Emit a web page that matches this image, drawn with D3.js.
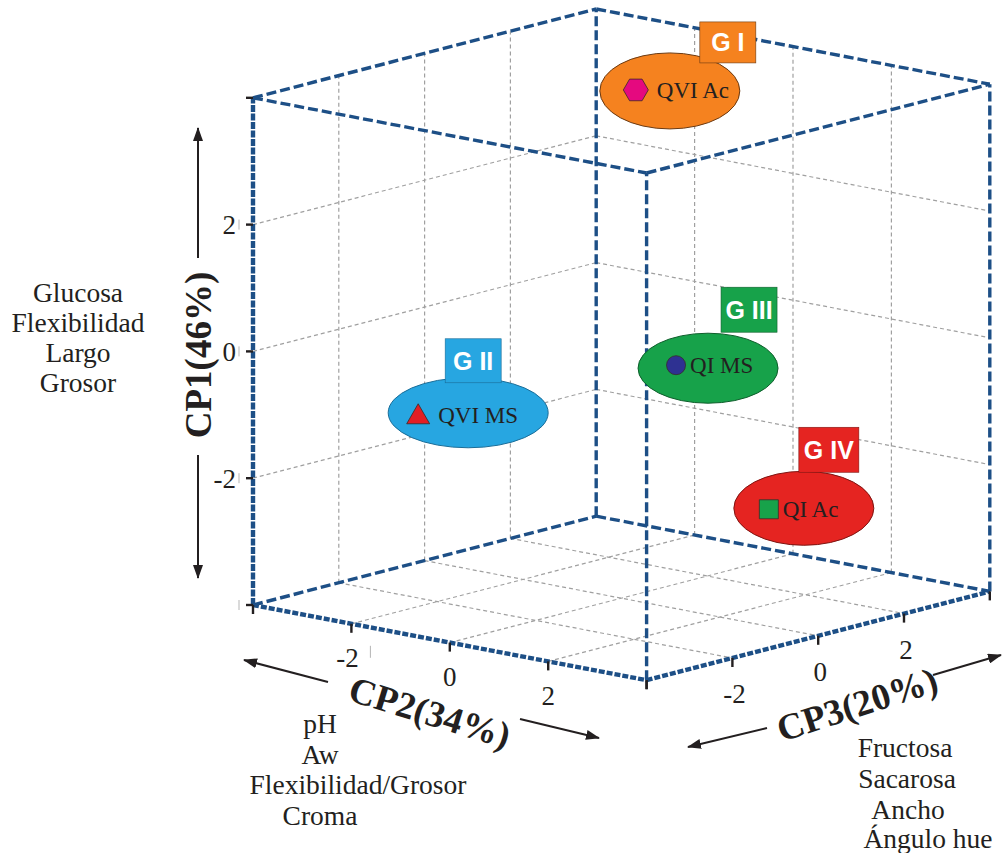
<!DOCTYPE html>
<html>
<head>
<meta charset="utf-8">
<script src="https://cdn.jsdelivr.net/npm/d3@7"></script>
<style>
  body { margin: 0; background: #ffffff; }
  svg { display: block; }
</style>
</head>
<body>
<svg id="chart" width="1002" height="853"></svg>
<script>
// ---- PCA scores (CP1, CP2, CP3) of the four samples ----
const samples = ["QVI Ac", "QVI MS", "QI MS", "QI Ac"];
const groups  = ["G I", "G II", "G III", "G IV"];
const cp1 = [3.26, -1.15, 0.15, -2.85];
const cp2 = [-2.0, -2.5, 2.0, 1.0];
const cp3 = [2.63, -1.87, -1.02, 2.29];

// ---- axes ----
const axisDomain = [-4, 4];
const tickValues = [-2, 0, 2];
const edgeTicks  = [-4, -2, 0, 2, 4];
const axisTitles = ["CP1(46%)", "CP2(34%)", "CP3(20%)"];

// ---- variables loading on each component ----
const cp1Loadings = ["Glucosa", "Flexibilidad", "Largo", "Grosor"];
const cp2Loadings = ["pH", "Aw", "Flexibilidad/Grosor", "Croma"];
const cp3Loadings = ["Fructosa", "Sacarosa", "Ancho", "Ángulo hue"];

// ------------------------------------------------------------------
const svg = d3.select("#chart");
const serif = "'Liberation Serif','Times New Roman',Times,serif";
const sans  = "'Liberation Sans',Arial,Helvetica,sans-serif";
const ink = "#231f20";
const edgeBlue = "#1d4f86";

// oblique projection of the [-4,4]^3 cube onto the page
const cx = 621.4, cy = 344.6;
const sV  = d3.scaleLinear().domain(axisDomain).range([253.6, -253.6]); // CP1 -> vertical
const s2x = d3.scaleLinear().domain(axisDomain).range([-196.8, 196.8]); // CP2 -> x
const s2y = d3.scaleLinear().domain(axisDomain).range([-37.6, 37.6]);   // CP2 -> y
const s3x = d3.scaleLinear().domain(axisDomain).range([-171.6, 171.6]); // CP3 -> x
const s3y = d3.scaleLinear().domain(axisDomain).range([44.4, -44.4]);   // CP3 -> y
function proj(a, b, c) {
  return [cx + s2x(b) + s3x(c), cy + sV(a) + s2y(b) + s3y(c)];
}
const line = d3.line();
const [lo, hi] = axisDomain;

// ---- grid on the three back planes ----
const gridSegs = [];
tickValues.forEach(v => {
  // back-left wall (CP2 = lo)
  gridSegs.push([proj(lo, lo, v), proj(hi, lo, v)]);
  gridSegs.push([proj(v, lo, lo), proj(v, lo, hi)]);
  // back-right wall (CP3 = hi)
  gridSegs.push([proj(lo, v, hi), proj(hi, v, hi)]);
  gridSegs.push([proj(v, lo, hi), proj(v, hi, hi)]);
  // floor (CP1 = lo)
  gridSegs.push([proj(lo, v, lo), proj(lo, v, hi)]);
  gridSegs.push([proj(lo, lo, v), proj(lo, hi, v)]);
});
svg.append("g").selectAll("path").data(gridSegs).join("path")
  .attr("d", d => line(d))
  .attr("fill", "none")
  .attr("stroke", "#a0a0a0")
  .attr("stroke-width", 1.2)
  .attr("stroke-dasharray", "4,3");

// ---- cube edges ----
const boxEdges = [
  // top face
  [proj(hi, lo, lo), proj(hi, lo, hi)],
  [proj(hi, lo, hi), proj(hi, hi, hi)],
  [proj(hi, lo, lo), proj(hi, hi, lo)],
  [proj(hi, hi, lo), proj(hi, hi, hi)],
  // verticals (back, front, right)
  [proj(lo, lo, hi), proj(hi, lo, hi)],
  [proj(lo, hi, lo), proj(hi, hi, lo)],
  [proj(lo, hi, hi), proj(hi, hi, hi)],
  // floor back edges
  [proj(lo, lo, lo), proj(lo, lo, hi)],
  [proj(lo, lo, hi), proj(lo, hi, hi)]
];
svg.append("g").selectAll("path").data(boxEdges).join("path")
  .attr("d", d => line(d))
  .attr("fill", "none")
  .attr("stroke", edgeBlue)
  .attr("stroke-width", 3.4)
  .attr("stroke-dasharray", "10,4");

// axis edges: CP1 (left vertical), CP2 and CP3 (front floor edges)
const axisEdges = [
  [proj(lo, lo, lo), proj(hi, lo, lo)],
  [proj(lo, lo, lo), proj(lo, hi, lo)],
  [proj(lo, hi, lo), proj(lo, hi, hi)]
];
const gAxes = svg.append("g");
gAxes.selectAll("path.base").data(axisEdges).join("path")
  .attr("class", "base")
  .attr("d", d => line(d))
  .attr("fill", "none")
  .attr("stroke", edgeBlue)
  .attr("stroke-width", 4.4)
  .attr("stroke-dasharray", (d, i) => i === 0 ? "7,1.5" : "6,2");

// ---- ticks ----
const gTicks = svg.append("g").attr("stroke", ink).attr("stroke-width", 2.4);
edgeTicks.forEach(v => {
  const p1 = proj(v, lo, lo);
  gTicks.append("line").attr("x1", p1[0] - 7).attr("x2", p1[0]).attr("y1", p1[1]).attr("y2", p1[1]);
  const p2 = proj(lo, v, lo);
  gTicks.append("line").attr("x1", p2[0]).attr("x2", p2[0]).attr("y1", p2[1]).attr("y2", p2[1] + 9);
  const p3 = proj(lo, hi, v);
  gTicks.append("line").attr("x1", p3[0]).attr("x2", p3[0]).attr("y1", p3[1]).attr("y2", p3[1] + 9);
});

// faint minor marks beside the CP1 labels
const gFaint = svg.append("g").attr("stroke", "#b5b5b5").attr("stroke-width", 1);
edgeTicks.slice(0, 4).forEach(v => {
  const p = proj(v, lo, lo);
  gFaint.append("line").attr("x1", p[0] - 14).attr("x2", p[0] - 14).attr("y1", p[1] - 5).attr("y2", p[1] + 5);
});
{
  const p = proj(lo, -2, lo);
  gFaint.append("line").attr("x1", p[0] + 19).attr("x2", p[0] + 19).attr("y1", p[1] + 22).attr("y2", p[1] + 34);
}

// ---- tick labels ----
const gLab = svg.append("g").attr("font-family", serif).attr("font-size", 27).attr("fill", ink);
tickValues.forEach(v => {
  const p1 = proj(v, lo, lo);
  gLab.append("text").attr("x", p1[0] - 17).attr("y", p1[1]).attr("dy", "0.35em")
    .attr("text-anchor", "end").text(v);
  const p2 = proj(lo, v, lo);
  gLab.append("text").attr("x", p2[0] - (v < 0 ? 4 : 0)).attr("y", p2[1] + 34).attr("dy", "0.35em")
    .attr("text-anchor", "middle").text(v);
  const p3 = proj(lo, hi, v);
  gLab.append("text").attr("x", p3[0] + 2).attr("y", p3[1] + 36).attr("dy", "0.35em")
    .attr("text-anchor", "middle").text(v);
});

// ---- arrows ----
const defs = svg.append("defs");
defs.append("marker")
  .attr("id", "head").attr("viewBox", "0 0 14 10")
  .attr("refX", 13).attr("refY", 5)
  .attr("markerWidth", 14).attr("markerHeight", 10)
  .attr("markerUnits", "userSpaceOnUse")
  .attr("orient", "auto")
  .append("path").attr("d", "M0,0 L14,5 L0,10 Z").attr("fill", ink);

const arrows = [
  [[198, 258], [198, 128]],
  [[198, 455], [198, 578]],
  [[328, 682], [244, 660]],
  [[520, 719], [599, 738]],
  [[767, 728], [688, 747]],
  [[933, 675], [1001, 655]]
];
svg.append("g").selectAll("path").data(arrows).join("path")
  .attr("d", d => line(d))
  .attr("stroke", ink).attr("stroke-width", 2)
  .attr("fill", "none")
  .attr("marker-end", "url(#head)");

// ---- axis titles ----
const titleLayout = [
  { x: 198, y: 355, rot: -90 },
  { x: 430, y: 712, rot: 17 },
  { x: 857, y: 704, rot: -18 }
];
svg.append("g").selectAll("text").data(axisTitles).join("text")
  .attr("transform", (d, i) => `translate(${titleLayout[i].x},${titleLayout[i].y}) rotate(${titleLayout[i].rot})`)
  .attr("dy", "0.35em")
  .attr("text-anchor", "middle")
  .attr("font-family", serif)
  .attr("font-weight", "bold")
  .attr("font-size", 37)
  .attr("fill", ink)
  .text(d => d);

// ---- loading lists ----
const loadingBlocks = [
  { items: cp1Loadings, xs: [78, 78, 78, 78], ys: [292, 322, 352, 382] },
  { items: cp2Loadings, xs: [320, 320, 358, 320], ys: [723, 754, 784, 815] },
  { items: cp3Loadings, xs: [905, 907, 908, 928], ys: [747, 778, 809, 838] }
];
const gLoad = svg.append("g").attr("font-family", serif).attr("font-size", 27.5).attr("fill", ink);
loadingBlocks.forEach(b => {
  gLoad.selectAll(null).data(b.items).join("text")
    .attr("x", (d, i) => b.xs[i]).attr("y", (d, i) => b.ys[i])
    .attr("dy", "0.35em").attr("text-anchor", "middle")
    .text(d => d);
});

// ---- sample bubbles ----
const bubbleStyle = [
  { fill: "#f5821f", stroke: "#6b3a12", dx: 34, dy: 1,  rx: 70, ry: 38, bx: 30,  by: -69, bw: 56, bh: 41, tx: 21, marker: "hexagon", mfill: "#e5097f" },
  { fill: "#27a6e1", stroke: "#1a6d98", dx: 50, dy: -2, rx: 80, ry: 35, bx: -23, by: -74, bw: 56, bh: 44, tx: 20, marker: "triangle", mfill: "#e31e24" },
  { fill: "#17a24a", stroke: "#0e5e2b", dx: 32, dy: 3,  rx: 70, ry: 35, bx: 13,  by: -81, bw: 56, bh: 45, tx: 14, marker: "circle", mfill: "#2e3192" },
  { fill: "#e52421", stroke: "#7e1512", dx: 35, dy: -1, rx: 70, ry: 37, bx: -5,  by: -81, bw: 60, bh: 45, tx: 14, marker: "square", mfill: "#17a24a" }
];

function markerPath(type) {
  const p = d3.path();
  if (type === "hexagon") {
    const r = 12.5;
    for (let k = 0; k < 6; k++) {
      const a = Math.PI / 3 * k;
      const x = r * Math.cos(a), y = r * Math.sin(a);
      if (k === 0) p.moveTo(x, y); else p.lineTo(x, y);
    }
    p.closePath();
  } else if (type === "triangle") {
    p.moveTo(0, -11); p.lineTo(11.5, 9); p.lineTo(-11.5, 9); p.closePath();
  } else if (type === "circle") {
    p.arc(0, 0, 9.5, 0, 2 * Math.PI);
  } else {
    p.rect(-9.5, -9.5, 19, 19);
  }
  return p.toString();
}

const gB = svg.append("g");
samples.forEach((name, i) => {
  const st = bubbleStyle[i];
  const [mx, my] = proj(cp1[i], cp2[i], cp3[i]);
  const ex = mx + st.dx, ey = my + st.dy;
  const g = gB.append("g");
  g.append("ellipse")
    .attr("cx", ex).attr("cy", ey).attr("rx", st.rx).attr("ry", st.ry)
    .attr("fill", st.fill).attr("stroke", st.stroke).attr("stroke-width", 1);
  g.append("rect")
    .attr("x", ex + st.bx).attr("y", ey + st.by).attr("width", st.bw).attr("height", st.bh)
    .attr("fill", st.fill).attr("stroke", st.stroke).attr("stroke-width", 0.6);
  g.append("text")
    .attr("x", ex + st.bx + st.bw / 2).attr("y", ey + st.by + st.bh / 2)
    .attr("dy", "0.36em").attr("text-anchor", "middle")
    .attr("font-family", sans).attr("font-weight", "bold").attr("font-size", 25)
    .attr("fill", "#ffffff")
    .text(groups[i]);
  g.append("path")
    .attr("transform", `translate(${mx},${my})`)
    .attr("d", markerPath(st.marker))
    .attr("fill", st.mfill).attr("stroke", "#3a2a2a").attr("stroke-width", 0.8);
  g.append("text")
    .attr("x", mx + st.tx).attr("y", my).attr("dy", "0.35em")
    .attr("font-family", serif).attr("font-size", 23).attr("fill", ink)
    .text(name);
});
</script>
</body>
</html>
